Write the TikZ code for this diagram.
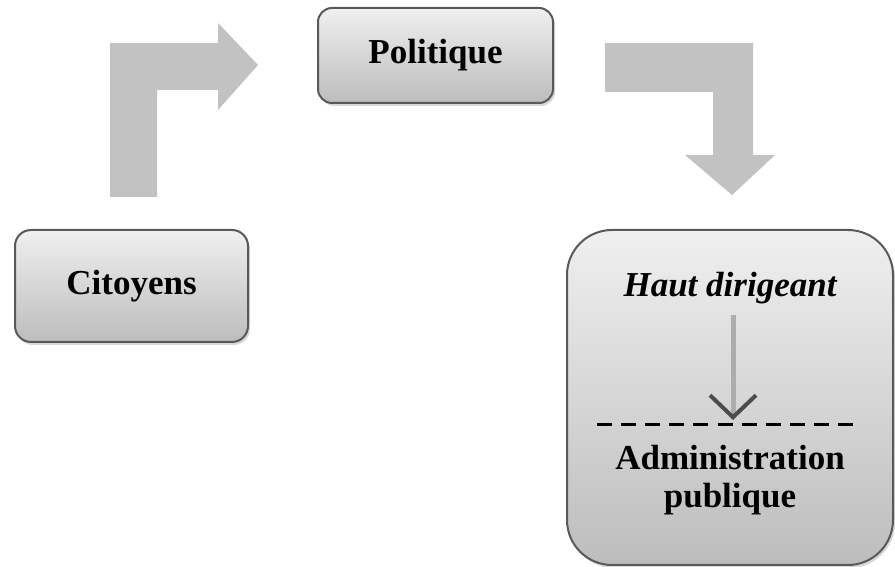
\documentclass[tikz,border=0pt]{standalone}
\usepackage{fontspec}
\setmainfont{Liberation Serif}
\usetikzlibrary{arrows.meta,shadows}

\begin{document}
\begin{tikzpicture}[x=1pt, y=1pt,
  every node/.style={font=\fontsize{35}{38}\selectfont\bfseries},
  box/.style={draw=black!65, line width=2pt, top color=gray!12, bottom color=gray!52,
    drop shadow={opacity=0.3, shadow xshift=2pt, shadow yshift=-3pt}},
  bentarrow/.style={fill=gray!48}]
  \useasboundingbox (0,0) rectangle (895,567);
  % Bent arrow: Citoyens to Politique
  \fill[bentarrow] (110,370) -- (110,524) -- (218,524) -- (218,544) -- (258,502)
    -- (218,457) -- (218,477) -- (157,477) -- (157,370) -- cycle;
  % Bent arrow: Politique to Haut dirigeant
  \fill[bentarrow] (605,524) -- (753,524) -- (753,412) -- (775,412) -- (732,372)
    -- (685,412) -- (713,412) -- (713,475) -- (605,475) -- cycle;
  % Citoyens
  \node[box, rounded corners=16pt, minimum width=233pt, minimum height=112pt] (citoyens) at (131.5,281) {Citoyens};
  % Politique
  \node[box, rounded corners=14pt, minimum width=235pt, minimum height=95pt] (politique) at (435.5,511.5) {Politique};
  % State block
  \node[box, rounded corners=45pt, minimum width=326pt, minimum height=335pt] (bloc) at (730,169.5) {};
  \node[font=\fontsize{35}{38}\selectfont\bfseries\itshape] (haut) at (730,279) {Haut dirigeant};
  \node[align=center] (admin) at (730,87) {Administration\\publique};
  % Separation line
  \coordinate (sepl) at (597,142);
  \coordinate (sepr) at (853,142);
  \draw[line width=3pt, dash pattern=on 15pt off 9.1pt] (sepl) -- (sepr);
  % Small arrow
  \coordinate (tip) at (733,147);
  \draw[gray!65, line width=5pt, -{Straight Barb[length=22pt, width=46pt, line width=4pt, color=black!70]}]
    (haut.south -| tip) ++(0,-8) -- (tip);
\end{tikzpicture}
\end{document}
